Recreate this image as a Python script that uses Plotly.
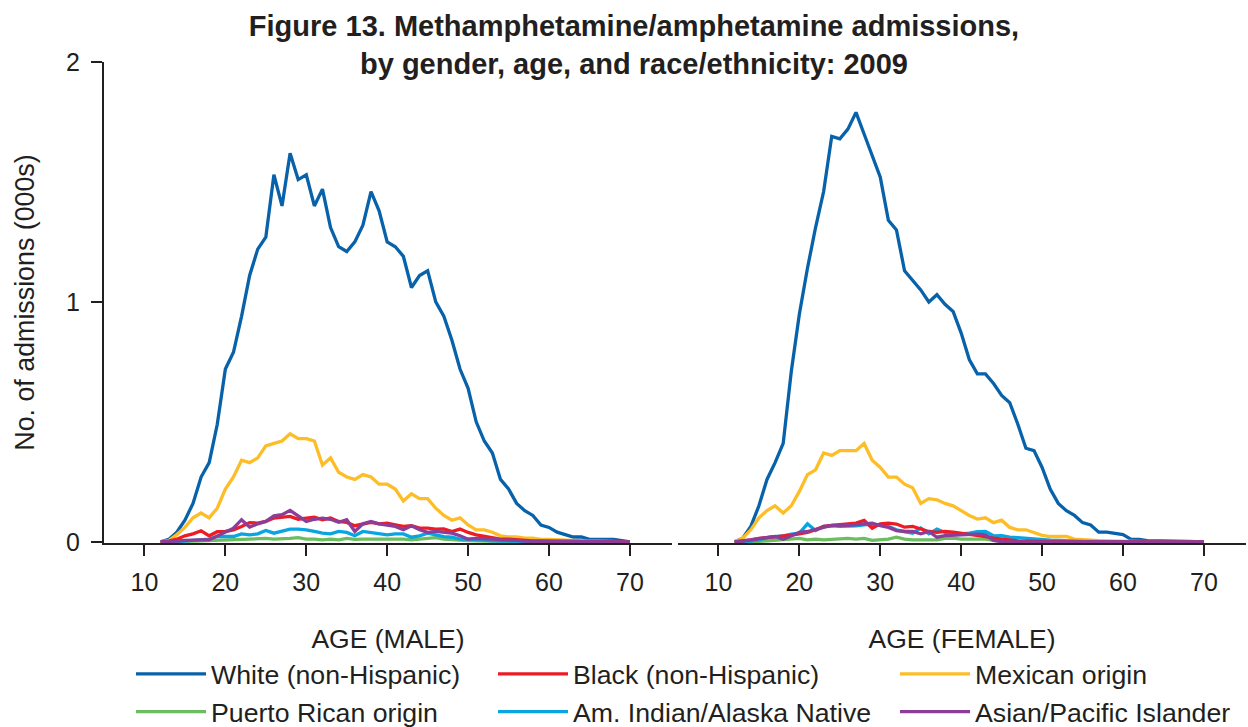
import plotly.graph_objects as go

ages = list(range(12, 71))
age_ticks = [10, 20, 30, 40, 50, 60, 70]
y_ticks = [0, 1, 2]

series_names = ["White (non-Hispanic)", "Black (non-Hispanic)", "Mexican origin",
                "Puerto Rican origin", "Am. Indian/Alaska Native", "Asian/Pacific Islander"]

# ---- MALE (thousands of admissions) ----
male_white = [0, 0.01, 0.04, 0.09, 0.16, 0.27, 0.33, 0.49, 0.72, 0.79, 0.94, 1.11, 1.22, 1.27,
              1.53, 1.40, 1.62, 1.51, 1.53, 1.40, 1.47, 1.31, 1.23, 1.21, 1.25, 1.32, 1.46, 1.38,
              1.25, 1.23, 1.19, 1.06, 1.11, 1.13, 1.00, 0.94, 0.84, 0.72, 0.64, 0.50, 0.42, 0.37,
              0.26, 0.22, 0.16, 0.13, 0.11, 0.07, 0.06, 0.04, 0.03, 0.02, 0.02, 0.01, 0.01, 0.01,
              0.01, 0.005, 0]
male_black = [0, 0.003, 0.011, 0.025, 0.033, 0.046, 0.025, 0.042, 0.043, 0.05, 0.064, 0.08, 0.078,
              0.085, 0.099, 0.101, 0.106, 0.094, 0.099, 0.103, 0.092, 0.099, 0.085, 0.081, 0.067,
              0.075, 0.081, 0.075, 0.078, 0.071, 0.064, 0.067, 0.057, 0.057, 0.053, 0.054, 0.043,
              0.053, 0.039, 0.029, 0.022, 0.015, 0.011, 0.011, 0.008, 0.007, 0.004, 0.004, 0.005,
              0.003, 0.003, 0.002, 0.002, 0.001, 0.001, 0.001, 0.001, 0, 0]
male_mexican = [0, 0.005, 0.03, 0.06, 0.10, 0.12, 0.10, 0.14, 0.22, 0.27, 0.34, 0.33, 0.35, 0.40,
                0.41, 0.42, 0.45, 0.43, 0.43, 0.42, 0.32, 0.35, 0.29, 0.27, 0.26, 0.28, 0.27, 0.24,
                0.24, 0.22, 0.17, 0.20, 0.18, 0.18, 0.14, 0.11, 0.09, 0.10, 0.07, 0.05, 0.05, 0.04,
                0.025, 0.02, 0.02, 0.015, 0.015, 0.01, 0.01, 0.008, 0.006, 0.005, 0.004, 0.003,
                0.003, 0.002, 0.002, 0.001, 0]
male_puerto = [0, 0, 0.001, 0.002, 0.003, 0.004, 0.005, 0.006, 0.007, 0.008, 0.008, 0.011, 0.010,
               0.014, 0.011, 0.011, 0.014, 0.017, 0.011, 0.011, 0.008, 0.011, 0.008, 0.014, 0.010,
               0.011, 0.011, 0.014, 0.011, 0.011, 0.011, 0.008, 0.011, 0.011, 0.017, 0.011, 0.008,
               0.006, 0.005, 0.004, 0.003, 0.002, 0.002, 0.001, 0, 0, 0, 0, 0, 0, 0, 0, 0, 0, 0,
               0, 0, 0, 0]
male_amind = [0, 0, 0.001, 0.003, 0.006, 0.008, 0.011, 0.022, 0.022, 0.022, 0.033, 0.029, 0.033,
              0.047, 0.036, 0.043, 0.053, 0.053, 0.05, 0.043, 0.036, 0.033, 0.043, 0.039, 0.025,
              0.043, 0.039, 0.036, 0.029, 0.033, 0.033, 0.019, 0.025, 0.036, 0.029, 0.022, 0.019,
              0.011, 0.011, 0.008, 0.006, 0.004, 0.003, 0.002, 0.002, 0.001, 0.001, 0, 0, 0, 0, 0,
              0, 0, 0, 0, 0, 0, 0]
male_asian = [0, 0, 0.003, 0.006, 0.008, 0.008, 0.008, 0.025, 0.042, 0.057, 0.092, 0.061, 0.075,
              0.085, 0.108, 0.113, 0.131, 0.106, 0.085, 0.094, 0.099, 0.094, 0.081, 0.092, 0.043,
              0.075, 0.085, 0.075, 0.071, 0.064, 0.05, 0.067, 0.05, 0.039, 0.043, 0.039, 0.036,
              0.025, 0.011, 0.014, 0.014, 0.011, 0.008, 0.008, 0.006, 0.003, 0.003, 0.001, 0.001,
              0, 0, 0, 0, 0, 0, 0, 0, 0, 0]

# ---- FEMALE (thousands of admissions) ----
female_white = [0, 0.015, 0.064, 0.15, 0.26, 0.33, 0.41, 0.71, 0.95, 1.14, 1.31, 1.46, 1.69, 1.68,
                1.72, 1.79, 1.70, 1.61, 1.52, 1.34, 1.30, 1.13, 1.09, 1.05, 1.00, 1.03, 0.99, 0.96,
                0.87, 0.76, 0.70, 0.70, 0.66, 0.61, 0.58, 0.49, 0.39, 0.38, 0.31, 0.22, 0.16, 0.13,
                0.11, 0.08, 0.07, 0.04, 0.04, 0.035, 0.03, 0.01, 0.01, 0.005, 0.005, 0.004, 0.004,
                0.003, 0.002, 0.001, 0]
female_black = [0, 0.003, 0.008, 0.014, 0.017, 0.019, 0.022, 0.028, 0.033, 0.039, 0.05, 0.064,
                0.068, 0.071, 0.075, 0.078, 0.089, 0.057, 0.075, 0.078, 0.074, 0.061, 0.064, 0.053,
                0.043, 0.039, 0.043, 0.040, 0.036, 0.033, 0.029, 0.022, 0.015, 0.011, 0.006, 0.004,
                0.003, 0.002, 0.002, 0.001, 0, 0, 0, 0, 0, 0, 0, 0, 0, 0, 0, 0, 0, 0, 0, 0, 0, 0, 0]
female_mexican = [0, 0.015, 0.05, 0.10, 0.13, 0.15, 0.12, 0.15, 0.21, 0.28, 0.30, 0.37, 0.36, 0.38,
                  0.38, 0.38, 0.41, 0.34, 0.31, 0.27, 0.27, 0.24, 0.225, 0.16, 0.18, 0.175, 0.16,
                  0.15, 0.13, 0.11, 0.095, 0.10, 0.08, 0.09, 0.06, 0.05, 0.05, 0.04, 0.027, 0.022,
                  0.022, 0.022, 0.011, 0.008, 0.006, 0.005, 0.004, 0.003, 0.003, 0.002, 0.002, 0.001,
                  0, 0, 0, 0, 0, 0, 0]
female_puerto = [0, 0, 0.001, 0.002, 0.004, 0.006, 0.008, 0.011, 0.014, 0.008, 0.011, 0.008, 0.011,
                 0.011, 0.014, 0.011, 0.014, 0.006, 0.008, 0.011, 0.019, 0.011, 0.008, 0.008, 0.008,
                 0.008, 0.014, 0.015, 0.011, 0.011, 0.014, 0.011, 0.006, 0.003, 0.001, 0, 0, 0, 0, 0,
                 0, 0, 0, 0, 0, 0, 0, 0, 0, 0, 0, 0, 0, 0, 0, 0, 0, 0, 0]
female_amind = [0, 0, 0.003, 0.008, 0.017, 0.022, 0.025, 0.032, 0.036, 0.075, 0.047, 0.064, 0.067,
                0.064, 0.064, 0.067, 0.071, 0.074, 0.071, 0.064, 0.05, 0.043, 0.036, 0.058, 0.033,
                0.053, 0.039, 0.036, 0.033, 0.036, 0.042, 0.043, 0.025, 0.026, 0.019, 0.017, 0.014,
                0.011, 0.008, 0.007, 0.006, 0.004, 0.003, 0.002, 0.002, 0.001, 0.001, 0, 0, 0, 0, 0,
                0, 0, 0, 0, 0, 0, 0]
female_asian = [0, 0.003, 0.008, 0.013, 0.018, 0.022, 0.011, 0.025, 0.039, 0.043, 0.05, 0.060,
                0.068, 0.068, 0.069, 0.072, 0.074, 0.078, 0.067, 0.060, 0.047, 0.043, 0.043, 0.033,
                0.043, 0.019, 0.026, 0.028, 0.029, 0.032, 0.032, 0.029, 0.006, 0, 0, 0, 0, 0, 0, 0,
                0, 0, 0, 0, 0, 0, 0, 0, 0, 0, 0, 0, 0, 0, 0, 0, 0, 0, 0]

colors = {
    "White (non-Hispanic)": "#0862A9",
    "Black (non-Hispanic)": "#ED1C24",
    "Mexican origin": "#FDBD27",
    "Puerto Rican origin": "#6BBD60",
    "Am. Indian/Alaska Native": "#08A5E1",
    "Asian/Pacific Islander": "#8B3D97",
}
male = {
    "White (non-Hispanic)": male_white, "Black (non-Hispanic)": male_black,
    "Mexican origin": male_mexican, "Puerto Rican origin": male_puerto,
    "Am. Indian/Alaska Native": male_amind, "Asian/Pacific Islander": male_asian,
}
female = {
    "White (non-Hispanic)": female_white, "Black (non-Hispanic)": female_black,
    "Mexican origin": female_mexican, "Puerto Rican origin": female_puerto,
    "Am. Indian/Alaska Native": female_amind, "Asian/Pacific Islander": female_asian,
}
# legend column / rank for each series
legend_slot = {
    "White (non-Hispanic)": ("legend", 1), "Puerto Rican origin": ("legend", 2),
    "Black (non-Hispanic)": ("legend2", 1), "Am. Indian/Alaska Native": ("legend2", 2),
    "Mexican origin": ("legend3", 1), "Asian/Pacific Islander": ("legend3", 2),
}
draw_order = ["White (non-Hispanic)", "Mexican origin", "Puerto Rican origin",
              "Am. Indian/Alaska Native", "Black (non-Hispanic)", "Asian/Pacific Islander"]

FONT = "Liberation Sans, Arial, Helvetica, sans-serif"
INK = "#231F20"
LW = 3.3

fig = go.Figure()
for name in draw_order:
    leg, rank = legend_slot[name]
    fig.add_trace(go.Scatter(x=ages, y=male[name], mode="lines", name=name,
                             line=dict(color=colors[name], width=LW),
                             legend=leg, legendrank=rank, legendgroup=name,
                             xaxis="x", yaxis="y"))
    fig.add_trace(go.Scatter(x=ages, y=female[name], mode="lines", name=name,
                             line=dict(color=colors[name], width=LW),
                             legendgroup=name, showlegend=False,
                             xaxis="x2", yaxis="y2"))

W, H = 1248, 727
ML, MR, MT, MB = 104, 2, 62, 184
PW = W - ML - MR
PH = H - MT - MB


def px_x(p):
    return (p - ML) / PW


def px_y(p):
    return (H - MB - p) / PH


xcommon = dict(range=[5, 75.2], tickvals=age_ticks, ticks="outside", ticklen=11, tickwidth=2,
               tickcolor=INK, showline=True, linecolor=INK, linewidth=2, showgrid=False,
               zeroline=False, layer="below traces", ticklabelstandoff=5,
               tickfont=dict(family=FONT, size=25, color=INK),
               title=dict(font=dict(family=FONT, size=26.5, color=INK), standoff=34))

fig.update_layout(
    width=W, height=H,
    margin=dict(l=ML, r=MR, t=MT, b=MB, autoexpand=False),
    paper_bgcolor="white", plot_bgcolor="white",
    font=dict(family=FONT, color=INK),
    title=dict(text="<b>Figure 13. Methamphetamine/amphetamine admissions,<br>by gender, age, and race/ethnicity: 2009</b>",
               font=dict(family=FONT, size=29, color=INK),
               x=634 / W, xref="container", xanchor="center",
               y=1 - 36 / H, yref="container", yanchor="top"),
    xaxis=dict(domain=[0, 568 / PW], anchor="y", **{**xcommon, "title": dict(text="AGE (MALE)", **xcommon["title"])}),
    xaxis2=dict(domain=[574 / PW, 1], anchor="y2", **{**xcommon, "title": dict(text="AGE (FEMALE)", **xcommon["title"])}),
    yaxis=dict(range=[-0.005, 2], tickvals=y_ticks, ticks="outside", ticklen=11, tickwidth=2,
               tickcolor=INK, showline=True, linecolor=INK, linewidth=2, showgrid=False,
               zeroline=False, layer="below traces", ticklabelstandoff=6,
               tickfont=dict(family=FONT, size=25, color=INK),
               title=dict(text="No. of admissions (000s)", font=dict(family=FONT, size=26.8, color=INK), standoff=24)),
    yaxis2=dict(range=[-0.005, 2], anchor="x2", showline=False, showticklabels=False, ticks="",
                showgrid=False, zeroline=False),
)

leg_common = dict(orientation="v", font=dict(family=FONT, size=26.7, color=INK),
                  bgcolor="rgba(0,0,0,0)", itemwidth=70, tracegroupgap=0,
                  xanchor="left", yanchor="top", y=px_y(650))
fig.update_layout(
    legend=dict(x=px_x(131), **leg_common),
    legend2=dict(x=px_x(493), **leg_common),
    legend3=dict(x=px_x(895), **leg_common),
)

fig.write_html("out.html", config={"displayModeBar": False},
               post_script="document.body.style.margin='0';document.body.style.overflow='hidden';")
